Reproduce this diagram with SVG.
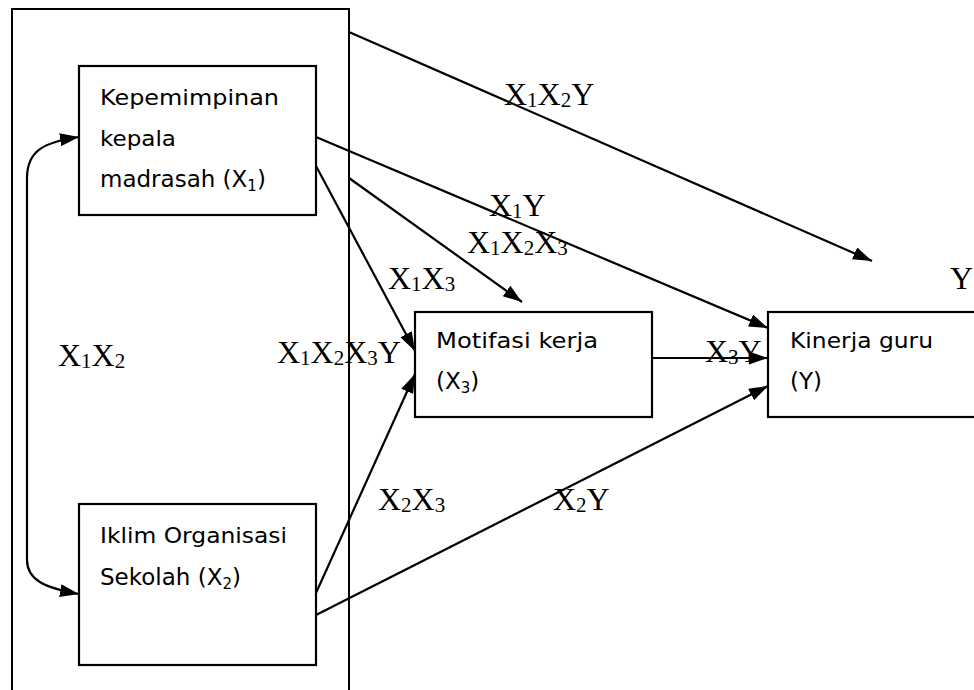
<svg xmlns="http://www.w3.org/2000/svg" width="974" height="690" viewBox="0 0 974 690">
<defs>
<style>
.box{fill:#fff;stroke:#000;stroke-width:2.2}
.frame{fill:none;stroke:#000;stroke-width:2}
.ln{fill:none;stroke:#000;stroke-width:2.2}
.arr{marker-end:url(#ah)}
.sans{font-family:"DejaVu Sans","Liberation Sans",sans-serif;font-size:22px;fill:#000}
.big{font-size:23px}
.ser{font-family:"Liberation Serif","Times New Roman",serif;font-size:32px;fill:#000}
.s1{font-size:21px}
.s2{font-size:15px}
</style>
<marker id="ah" viewBox="0 0 19 13" refX="19" refY="6.5" markerWidth="19" markerHeight="13" markerUnits="userSpaceOnUse" orient="auto-start-reverse">
<path d="M0,0 L19,6.5 L0,13 z" fill="#000"/>
</marker>
</defs>
<rect width="974" height="690" fill="#fff"/>

<g id="frame">
<path class="frame" d="M12,700 L12,9 L349,9 L349,700"/>
</g>

<g id="node-x1">
<rect class="box" x="79" y="66" width="237" height="149"/>
<text class="sans" x="100" y="105" textLength="179" lengthAdjust="spacingAndGlyphs">Kepemimpinan</text>
<text class="sans" x="100" y="146" textLength="76" lengthAdjust="spacingAndGlyphs">kepala</text>
<text class="sans big" x="100" y="187">madrasah (X<tspan class="s2" dy="4">1</tspan><tspan dy="-4">)</tspan></text>
</g>

<g id="node-x2">
<rect class="box" x="79" y="504" width="237" height="161"/>
<text class="sans" x="100" y="543" textLength="187" lengthAdjust="spacingAndGlyphs">Iklim Organisasi</text>
<text class="sans big" x="100" y="585">Sekolah (X<tspan class="s2" dy="4">2</tspan><tspan dy="-4">)</tspan></text>
</g>

<g id="node-x3">
<rect class="box" x="415" y="312" width="237" height="105"/>
<text class="sans" x="436" y="348" textLength="162" lengthAdjust="spacingAndGlyphs">Motifasi kerja</text>
<text class="sans big" x="436" y="389">(X<tspan class="s2" dy="4">3</tspan><tspan dy="-4">)</tspan></text>
</g>

<g id="node-y">
<rect class="box" x="768" y="312" width="230" height="105"/>
<text class="sans" x="790" y="348" textLength="143" lengthAdjust="spacingAndGlyphs">Kinerja guru</text>
<text class="sans big" x="790" y="389">(Y)</text>
</g>

<g id="connectors">
<path class="ln" d="M79,137 C45,142 27,150 27,178 L27,560 C27,580 45,588 79,594" marker-start="url(#ah)" marker-end="url(#ah)"/>
<line class="ln arr" x1="349" y1="32" x2="872" y2="261"/>
<line class="ln arr" x1="316" y1="137" x2="768" y2="328"/>
<line class="ln arr" x1="349" y1="178" x2="522" y2="302"/>
<line class="ln arr" x1="316" y1="166" x2="415" y2="351"/>
<line class="ln arr" x1="316" y1="593" x2="415" y2="374"/>
<line class="ln arr" x1="316" y1="615" x2="768" y2="386"/>
<line class="ln arr" x1="652" y1="358" x2="768" y2="358"/>
</g>

<g id="labels">
<text class="ser" x="504" y="105">X<tspan class="s1" dy="2">1</tspan><tspan dy="-2">X</tspan><tspan class="s1" dy="2">2</tspan><tspan dy="-2">Y</tspan></text>
<text class="ser" x="489" y="216">X<tspan class="s1" dy="2">1</tspan><tspan dy="-2">Y</tspan></text>
<text class="ser" x="467" y="253">X<tspan class="s1" dy="2">1</tspan><tspan dy="-2">X</tspan><tspan class="s1" dy="2">2</tspan><tspan dy="-2">X</tspan><tspan class="s1" dy="2">3</tspan></text>
<text class="ser" x="388" y="289">X<tspan class="s1" dy="2">1</tspan><tspan dy="-2">X</tspan><tspan class="s1" dy="2">3</tspan></text>
<text class="ser" x="950" y="289">Y</text>
<text class="ser" x="58" y="366">X<tspan class="s1" dy="2">1</tspan><tspan dy="-2">X</tspan><tspan class="s1" dy="2">2</tspan></text>
<text class="ser" x="277" y="363">X<tspan class="s1" dy="2">1</tspan><tspan dy="-2">X</tspan><tspan class="s1" dy="2">2</tspan><tspan dy="-2">X</tspan><tspan class="s1" dy="2">3</tspan><tspan dy="-2">Y</tspan></text>
<text class="ser" x="705" y="362">X<tspan class="s1" dy="2">3</tspan><tspan dy="-2">Y</tspan></text>
<text class="ser" x="378" y="510">X<tspan class="s1" dy="2">2</tspan><tspan dy="-2">X</tspan><tspan class="s1" dy="2">3</tspan></text>
<text class="ser" x="553" y="510">X<tspan class="s1" dy="2">2</tspan><tspan dy="-2">Y</tspan></text>
</g>
</svg>
